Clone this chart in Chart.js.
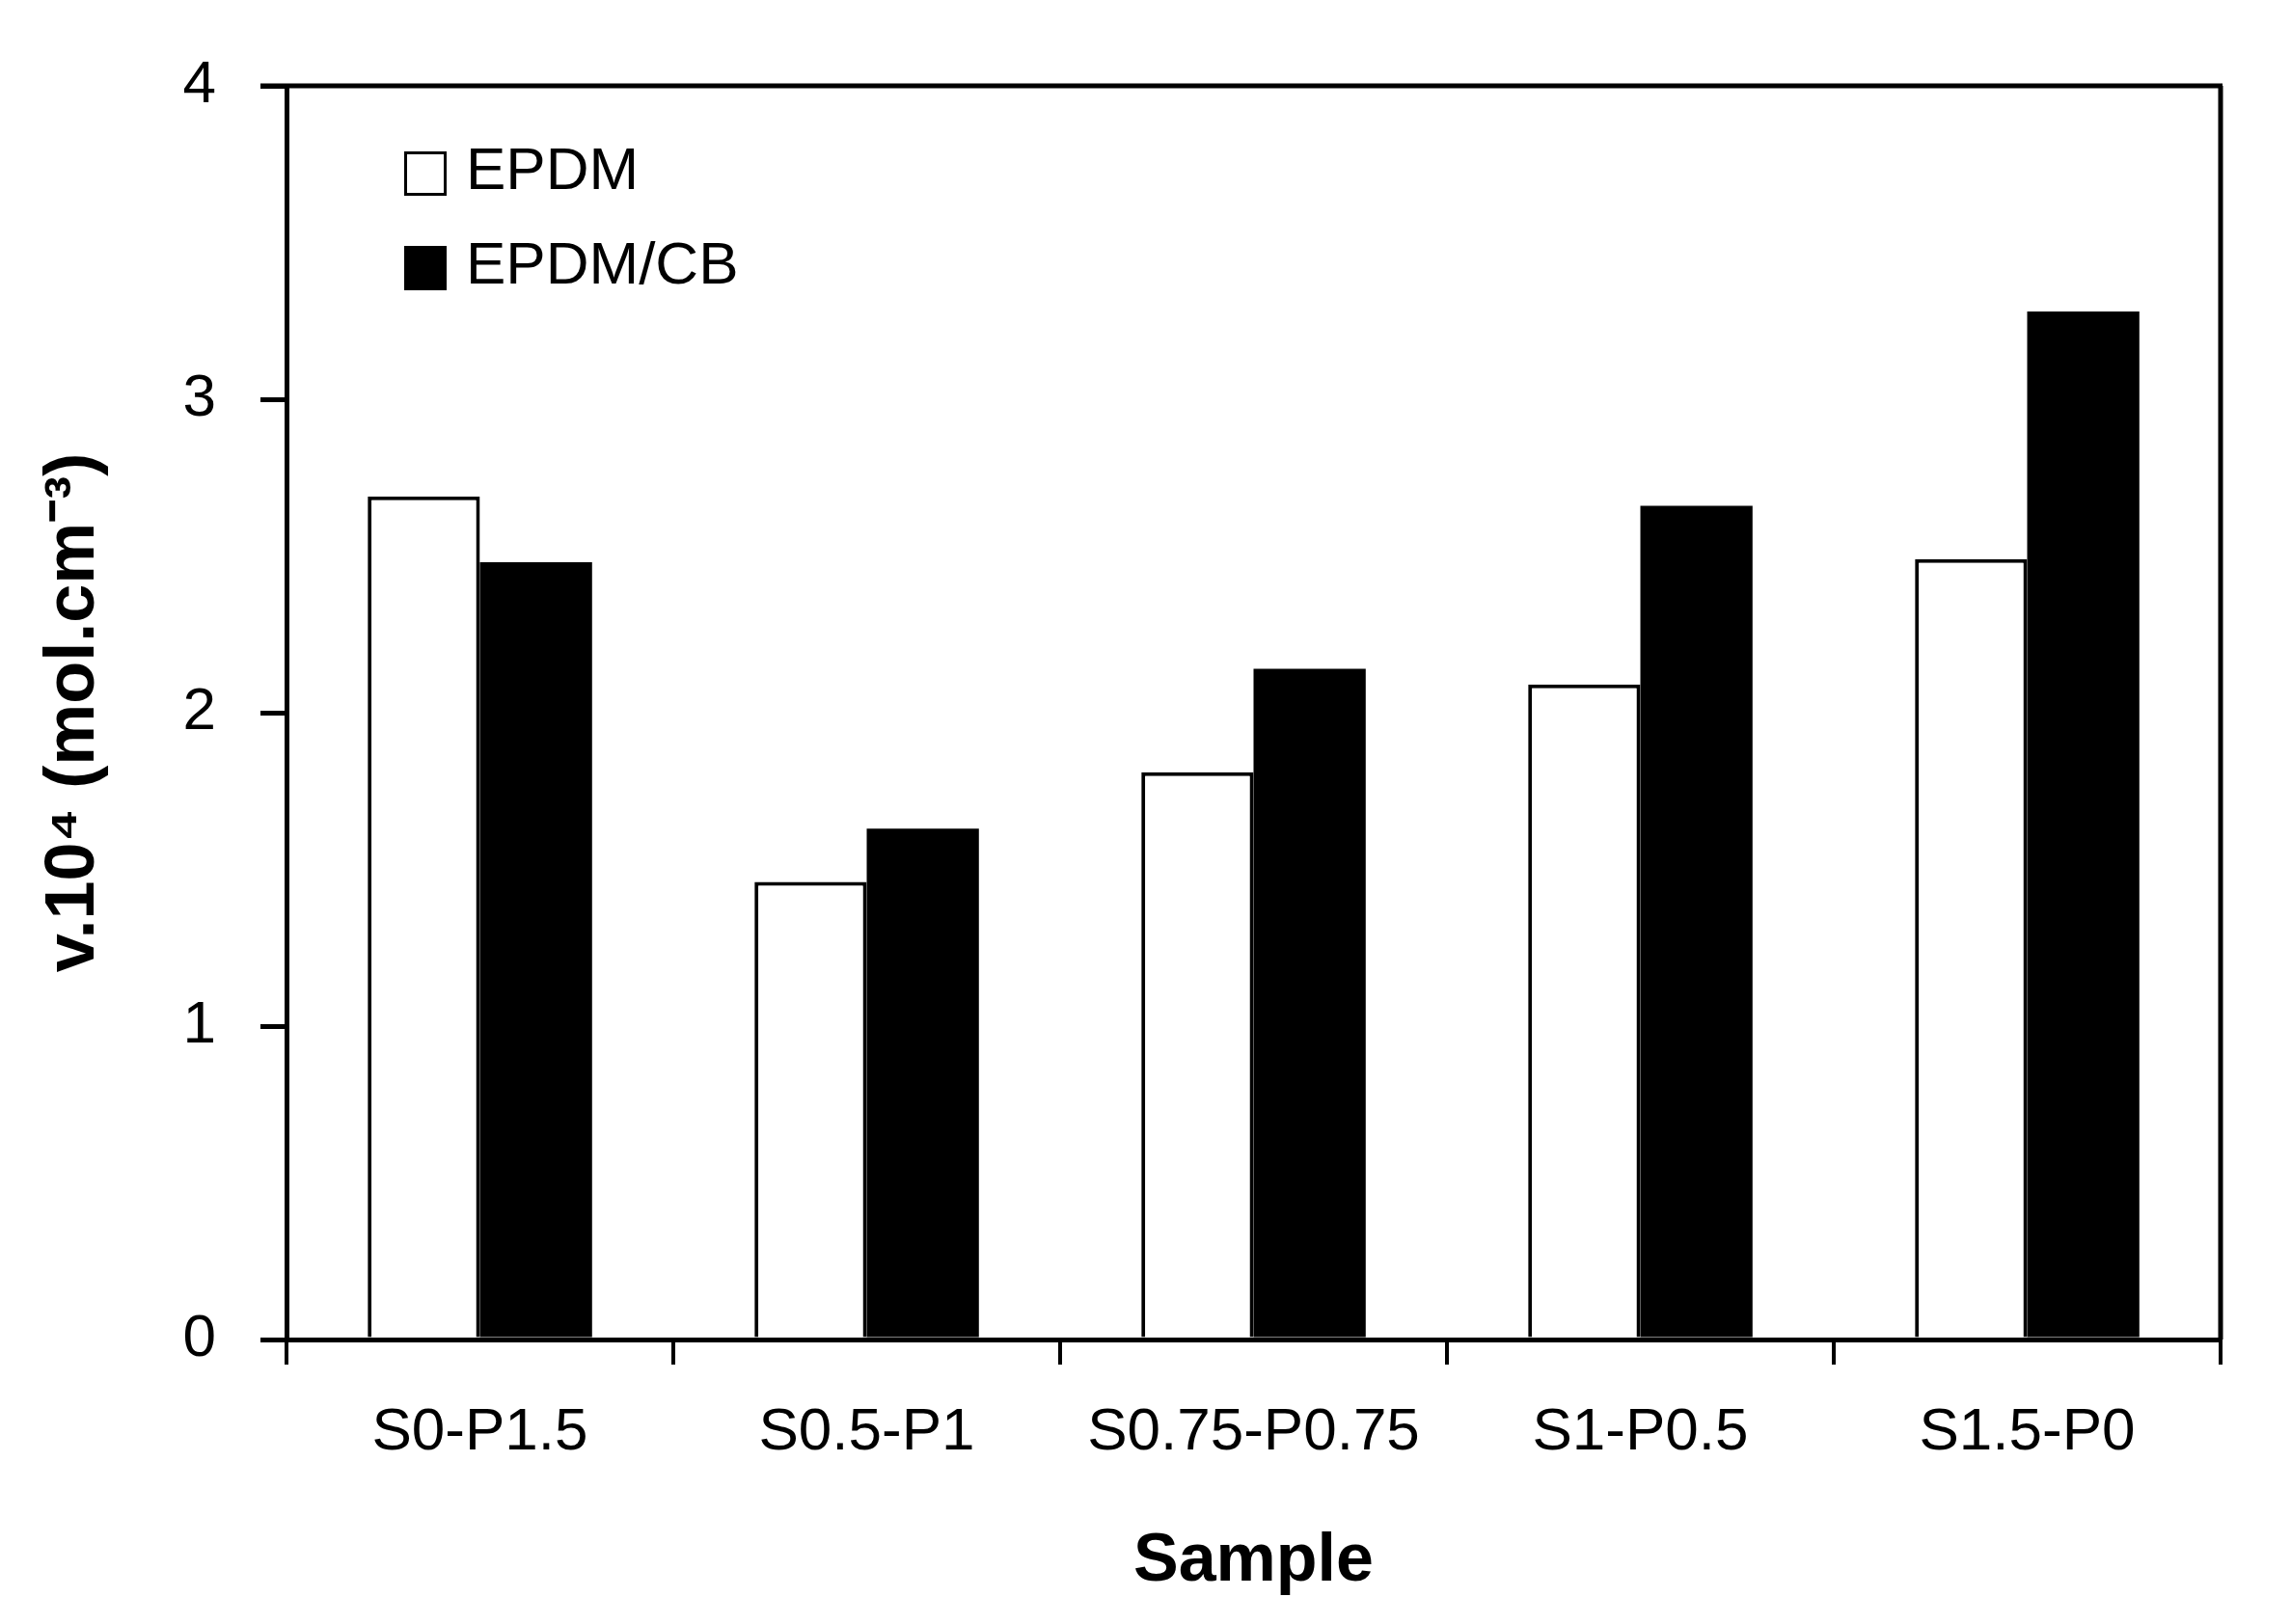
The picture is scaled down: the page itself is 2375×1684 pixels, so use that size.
<!DOCTYPE html>
<html>
<head>
<meta charset="utf-8">
<script src="https://cdn.jsdelivr.net/npm/chart.js@4.4.1/dist/chart.umd.min.js"></script>
<style>
  html, body { margin: 0; padding: 0; background: #fff; }
  #wrap { width: 2375px; height: 1684px; }
</style>
</head>
<body>
<div id="wrap"><canvas id="chart" width="2375" height="1684"></canvas></div>
<script>
// Crosslink density per sample, neat EPDM vs EPDM/CB.
const categories = ['S0-P1.5', 'S0.5-P1', 'S0.75-P0.75', 'S1-P0.5', 'S1.5-P0'];
const epdm = [2.69, 1.46, 1.81, 2.09, 2.49];
const epdmCb = [2.48, 1.63, 2.14, 2.66, 3.28];
const yTicks = [0, 1, 2, 3, 4];

const FONT = "'Liberation Sans', Arial, sans-serif";

// Legend sits inside the plot, top-left, stacked vertically.
const insideLegend = {
    id: 'insideLegend',
    afterDatasetsDraw(chart) {
        const ctx = chart.ctx;
        const x0 = chart.chartArea.left + 122, y0 = chart.chartArea.top + 68;
        ctx.save();
        ctx.font = `62px ${FONT}`;
        ctx.textBaseline = 'middle';
        chart.data.datasets.forEach((ds, i) => {
            const y = y0 + i * 98;
            ctx.fillStyle = ds.backgroundColor;
            ctx.fillRect(x0, y, 44, 46);
            ctx.lineWidth = 3;
            ctx.strokeStyle = '#000';
            ctx.strokeRect(x0 + 1.5, y + 1.5, 41, 43);
            ctx.fillStyle = '#000';
            ctx.fillText(ds.label, x0 + 64, y + 22);
        });
        ctx.restore();
    }
};

// Closes the plot box on the top and right.
const frame = {
    id: 'frame',
    afterDraw(chart) {
        const { left, right, top, bottom } = chart.chartArea;
        const ctx = chart.ctx;
        ctx.save();
        ctx.strokeStyle = '#000';
        ctx.lineWidth = 5;
        ctx.beginPath(); ctx.moveTo(left - 27, top); ctx.lineTo(right + 2, top); ctx.stroke();
        ctx.beginPath(); ctx.moveTo(right, top); ctx.lineTo(right, bottom); ctx.stroke();
        ctx.restore();
    }
};

new Chart(document.getElementById('chart').getContext('2d'), {
    type: 'bar',
    data: {
        labels: categories,
        datasets: [
            { label: 'EPDM', data: epdm, backgroundColor: '#ffffff', borderColor: '#000000', borderWidth: 4 },
            { label: 'EPDM/CB', data: epdmCb, backgroundColor: '#000000', borderColor: '#000000', borderWidth: 0 },
        ]
    },
    options: {
        responsive: false, animation: false,
        devicePixelRatio: 1,
        layout: { padding: { top: 89, right: 73, left: 0, bottom: 0 } },
        plugins: { legend: { display: false }, tooltip: { enabled: false } },
        datasets: { bar: { categoryPercentage: 0.58, barPercentage: 1.0 } },
        scales: {
            x: {
                afterFit: s => { s.height = 295; },
                grid: { offset: true, drawOnChartArea: false, tickLength: 26, color: '#000', lineWidth: 4 },
                border: { display: true, color: '#000', width: 5 },
                ticks: { color: '#000', font: { family: FONT, size: 62 }, padding: 34, maxRotation: 0 },
                title: { display: true, text: 'Sample', color: '#000', font: { family: FONT, size: 70, weight: 'bold' }, padding: { top: 0, bottom: 22 } }
            },
            y: {
                min: 0, max: 4,
                afterFit: s => { s.width = 297; },
                afterBuildTicks: s => { s.ticks = yTicks.map(v => ({ value: v })); },
                grid: { drawOnChartArea: false, tickLength: 27, color: '#000', lineWidth: 5 },
                border: { display: true, color: '#000', width: 5 },
                ticks: { color: '#000', font: { family: FONT, size: 62 }, padding: 46 },
                title: { display: true, text: 'v.10⁴ (mol.cm⁻³)', color: '#000', font: { family: FONT, size: 72, weight: 'bold' }, padding: { top: 34, bottom: 0 } }
            }
        }
    },
    plugins: [insideLegend, frame]
});
</script>
</body>
</html>
